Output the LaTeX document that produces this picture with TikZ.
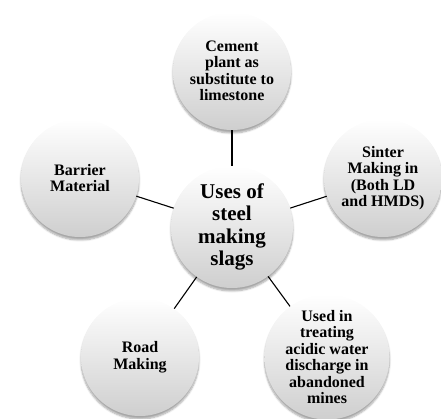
\documentclass[tikz,border=0pt]{standalone}
\usepackage{fontspec}
\setmainfont{Liberation Serif}
\usetikzlibrary{shadows.blur}
\begin{document}
\begin{tikzpicture}[x=1pt,y=-1pt,
  ball/.style={circle, minimum size=118pt, inner sep=0pt, align=center,
    top color=white, bottom color=gray!38, draw=none,
    blur shadow={shadow xshift=0pt, shadow yshift=-3pt, shadow blur steps=6, shadow opacity=35}},
  outer/.style={ball, font=\bfseries\fontsize{16}{16.5}\selectfont},
  hub/.style={ball, minimum size=122pt, font=\bfseries\fontsize{21}{22.5}\selectfont},
  link/.style={draw=black, line width=1.1pt}]
\useasboundingbox (0,0) rectangle (441,419);
\node[hub] (c) at (232,227) {Uses of\\steel\\making\\slags};
\node[outer] (t) at (232,71) {Cement\\plant as\\substitute to\\limestone};
\node[outer] (r) at (383,178) {Sinter\\Making in\\(Both LD\\and HMDS)};
\node[outer] (br) at (327,357) {Used in\\treating\\acidic water\\discharge in\\abandoned\\mines};
\node[outer] (bl) at (140,357) {Road\\Making};
\node[outer] (l) at (80,178) {Barrier\\Material};
\draw[link] (c) -- (t);
\draw[link] (c) -- (r);
\draw[link] (c) -- (br);
\draw[link] (c) -- (bl);
\draw[link] (c) -- (l);
\end{tikzpicture}
\end{document}
